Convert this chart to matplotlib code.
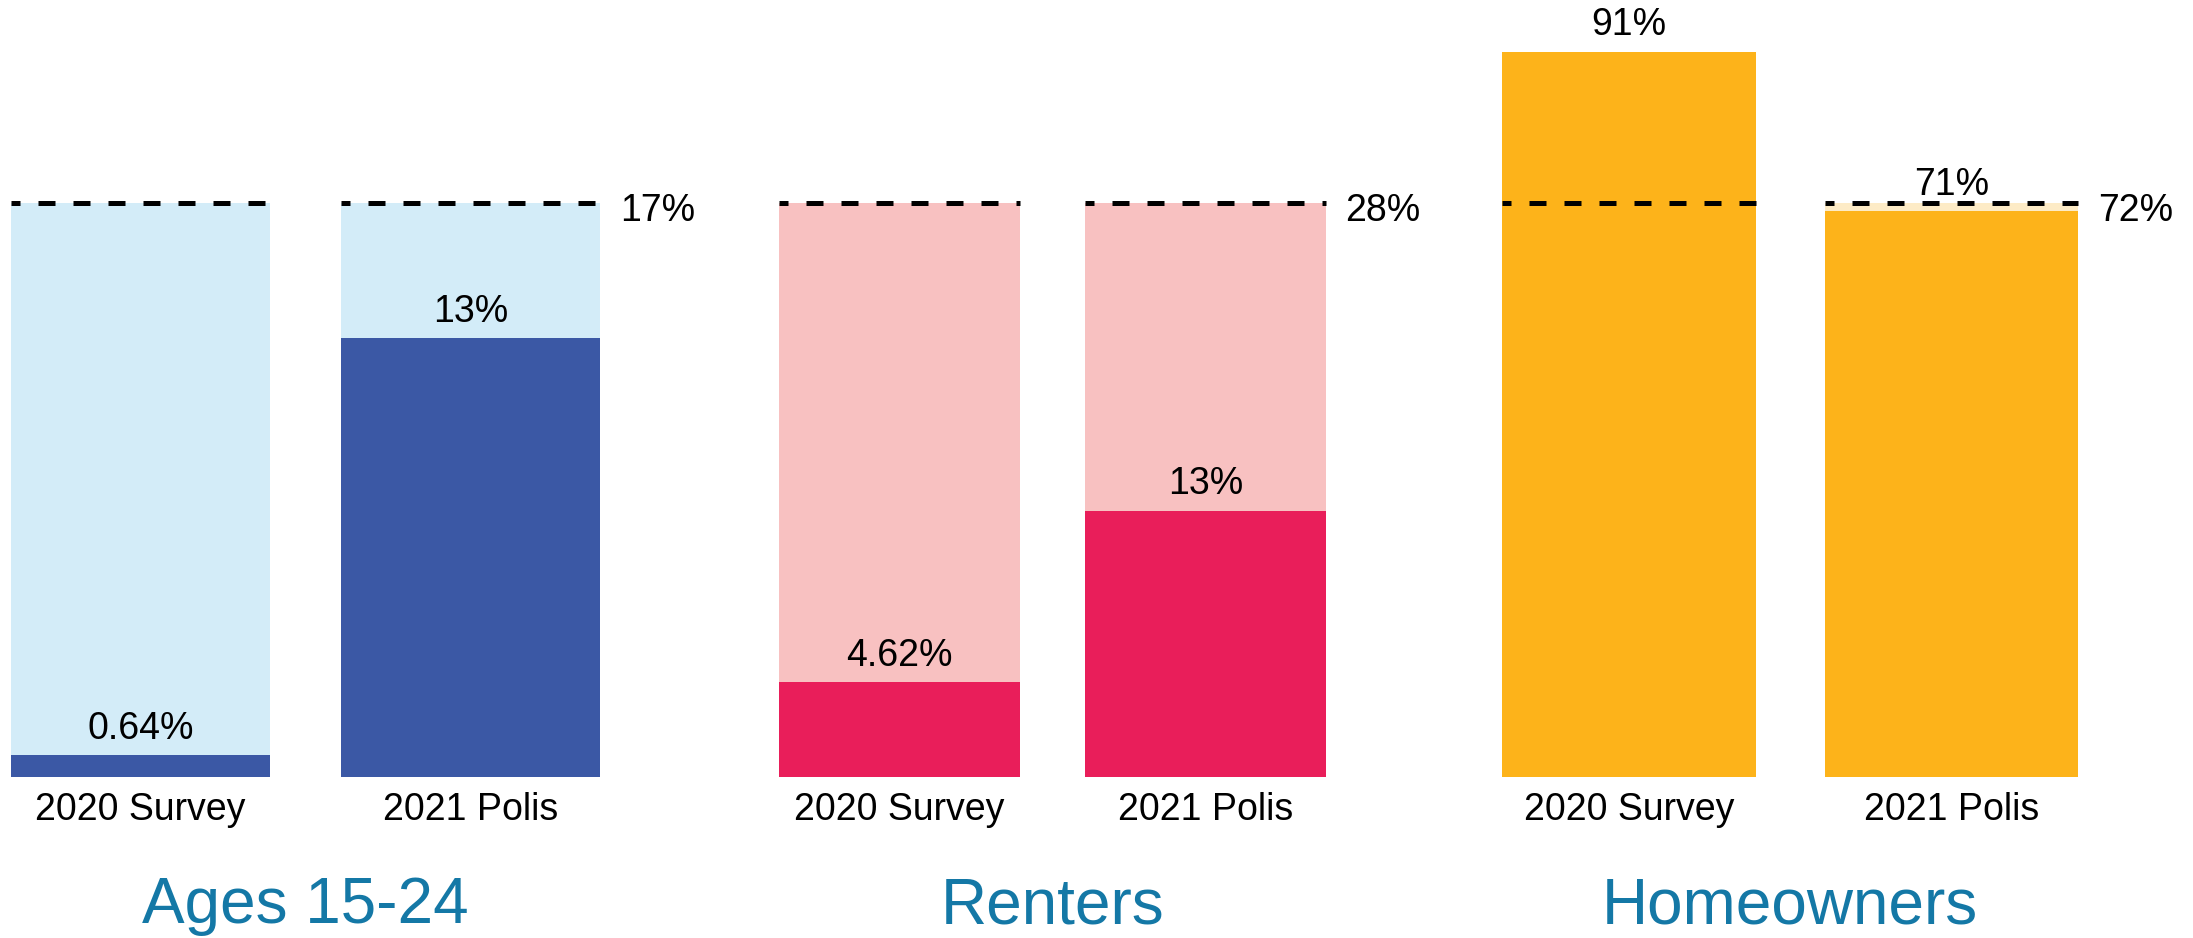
import matplotlib
matplotlib.use("Agg")
import matplotlib.pyplot as plt

plt.rcParams['font.family'] = ['Liberation Sans', 'DejaVu Sans']

groups = ['Ages 15-24', 'Renters', 'Homeowners']
sources = ['2020 Survey', '2021 Polis']
benchmark = [17, 28, 72]
survey_2020 = [0.64, 4.62, 91]
polis_2021 = [13, 13, 71]
value_labels = [['0.64%', '13%'], ['4.62%', '13%'], ['91%', '71%']]
bench_labels = ['17%', '28%', '72%']

light_colors = ['#D3ECF8', '#F8C1C1', '#FDEBC6']
dark_colors = ['#3B58A5', '#E91E5A', '#FDB31A']
title_color = '#1478A6'

W, H = 2193, 938
fig = plt.figure(figsize=(W / 100, H / 100), dpi=100)

# pixel layout of each panel: centre of first bar, centre of second bar
centres = [(140.5, 470.5), (899.5, 1205.5), (1629, 1951.5)]
bottom_px, bench_px = 777, 203
bar_w = 0.787

for g in range(3):
    c0, c1 = centres[g]
    u = c1 - c0
    ax = fig.add_axes([(c0 - 0.5 * u) / W, (H - bottom_px) / H, 2 * u / W, bottom_px / H])
    ax.set_xlim(-0.5, 1.5)
    ax.set_ylim(0, benchmark[g] * bottom_px / (bottom_px - bench_px))

    xs = [0, 1]
    vals = [survey_2020[g], polis_2021[g]]
    ax.bar(xs, [benchmark[g]] * 2, width=bar_w, color=light_colors[g], zorder=1)
    ax.bar(xs, vals, width=bar_w, color=dark_colors[g], zorder=2)

    for x in xs:
        ax.plot([x - bar_w / 2, x + bar_w / 2], [benchmark[g]] * 2, color='black',
                lw=3.6, ls=(1.6, (3.4, 3.6)), solid_capstyle='butt', zorder=3)
        ax.annotate(value_labels[g][x], (x, vals[x]), xytext=(0, 6), textcoords='offset points',
                    ha='center', va='bottom', fontsize=27, zorder=4)

    ax.annotate(bench_labels[g], (1 + bar_w / 2, benchmark[g]), xytext=(14, -6),
                textcoords='offset points', ha='left', va='center', fontsize=27,
                annotation_clip=False)

    ax.set_xticks(xs)
    ax.set_xticklabels(sources, fontsize=27)
    ax.tick_params(axis='x', length=0, pad=11)
    ax.set_yticks([])
    for s in ax.spines.values():
        s.set_visible(False)
    ax.patch.set_alpha(0)

    ax.text(0.5, -146 / bottom_px, groups[g], transform=ax.transAxes, ha='center',
            va='baseline', fontsize=46, color=title_color)

fig.savefig('out.png', dpi=100)
